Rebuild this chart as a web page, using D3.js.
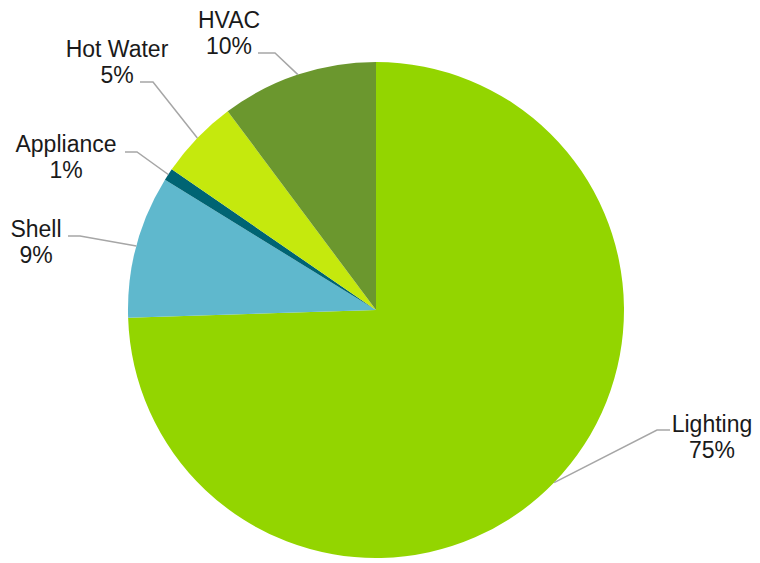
<!DOCTYPE html>
<html>
<head>
<meta charset="utf-8">
<script src="https://cdn.jsdelivr.net/npm/d3@7"></script>
<style>
  body { margin: 0; background: #fff; }
  text { font-family: "Liberation Sans", Arial, sans-serif; font-size: 23px; fill: #1a1a1a; }
</style>
</head>
<body>
<div id="container-svg"></div>
<script>
// Data (clockwise from 12 o'clock)
const categories = ["Lighting", "Shell", "Appliance", "Hot Water", "HVAC"]
const shares = [74.5, 9.3, 0.8, 5.2, 10.2]
const colors = ["#93D500", "#5FB8CD", "#006473", "#C5E90D", "#6B972E"]

// Label layout: text centre / first baseline, leader start (sx, sy) and elbow x
const labelPos = [
    {x: 712, y: 432, sx: 670, sy: 430, ex: 657},
    {x: 36, y: 237, sx: 68, sy: 236, ex: 80},
    {x: 66, y: 152, sx: 125, sy: 152, ex: 137},
    {x: 117, y: 57, sx: 140, sy: 82, ex: 153},
    {x: 229, y: 28, sx: 258, sy: 53, ex: 275}
]

const width = 760
const height = 563
const cx = 376, cy = 310, radius = 248

const svg = d3.select("div#container-svg")
    .append("svg")
    .attr("width", width)
    .attr("height", height)

const pie = d3.pie().sort(null).value(d => d)
const arcs = pie(shares)
const arc = d3.arc().innerRadius(0).outerRadius(radius)

const pieGroup = svg.append("g").attr("transform", "translate(" + cx + "," + cy + ")")

pieGroup.selectAll("path")
    .data(arcs)
    .join("path")
    .attr("d", arc)
    .style("fill", (d, i) => colors[i])

// Leader lines
const lineGroup = svg.append("g")
arcs.forEach(function(d, i) {
    var mid = (d.startAngle + d.endAngle) / 2
    var px = cx + radius * Math.sin(mid)
    var py = cy - radius * Math.cos(mid)
    var lp = labelPos[i]
    lineGroup.append("polyline")
        .attr("points", [[lp.sx, lp.sy], [lp.ex, lp.sy], [px, py]].map(p => p.join(",")).join(" "))
        .style("fill", "none")
        .style("stroke", "#A6A6A6")
        .style("stroke-width", 1.5)
})

// Labels
const labelGroup = svg.append("g")
labelGroup.selectAll("text.name")
    .data(arcs)
    .join("text")
    .attr("class", "name")
    .attr("x", (d, i) => labelPos[i].x)
    .attr("y", (d, i) => labelPos[i].y)
    .attr("text-anchor", "middle")
    .text((d, i) => categories[i])

labelGroup.selectAll("text.pct")
    .data(arcs)
    .join("text")
    .attr("class", "pct")
    .attr("x", (d, i) => labelPos[i].x)
    .attr("y", (d, i) => labelPos[i].y + 25.5)
    .attr("text-anchor", "middle")
    .text((d, i) => Math.round(shares[i]) + "%")
</script>
</body>
</html>
